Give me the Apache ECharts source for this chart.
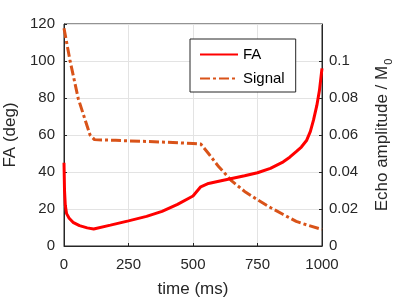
<!DOCTYPE html>
<html>
<head>
<meta charset="utf-8">
<script src="https://cdn.jsdelivr.net/npm/echarts@6/dist/echarts.min.js"></script>
<style>html,body{margin:0;padding:0;background:#fff}#c{width:400px;height:300px}</style>
</head>
<body>
<div id="c"></div>
<script>
// Data
var faTime   = [0, 2, 5, 10, 20, 35, 60, 90, 115, 180, 250, 320, 380, 440, 500, 530, 560, 600, 650, 700, 750, 800, 850, 875, 900, 920, 940, 955, 967, 980, 990, 1000];
var faValues = [45, 30, 22, 17.5, 15, 12.8, 11, 9.8, 9.2, 11.3, 13.6, 16, 18.7, 22.5, 27, 32, 33.8, 35, 36.5, 38, 39.6, 42, 45.5, 48, 51, 53.5, 57, 62, 68, 76, 84, 96];
var sigTime   = [0, 23, 55, 80, 101, 118, 200, 300, 400, 500, 530, 560, 600, 650, 700, 750, 800, 850, 900, 950, 1000];
var sigValues = [0.1177, 0.1005, 0.0798, 0.069, 0.060, 0.0575, 0.0571, 0.0566, 0.0561, 0.0554, 0.0551, 0.050, 0.0428, 0.0352, 0.0295, 0.0250, 0.0208, 0.0170, 0.0133, 0.0110, 0.0090];
var xTicks = [0, 250, 500, 750, 1000];
var seriesNames = ['FA', 'Signal'];

function pairs(t, v) { return t.map(function (x, i) { return [x, v[i]]; }); }

var txt = '#262626';
var font = 'Liberation Sans, Arial, Helvetica, sans-serif';
var chart = echarts.init(document.getElementById('c'), null, {renderer: 'canvas'});
chart.setOption({
  animation: false,
  textStyle: {fontFamily: font},
  grid: {left: 64, right: 78, top: 24, bottom: 54, outerBoundsMode: 'none', containLabel: false,
    show: true, borderColor: txt, borderWidth: 1, backgroundColor: 'transparent'},
  legend: {
    orient: 'vertical', left: 190, top: 39,
    padding: [8, 11, 6, 9], itemGap: 9, itemWidth: 38, itemHeight: 15,
    borderColor: txt, borderWidth: 1, borderRadius: 0, backgroundColor: '#fff',
    itemStyle: {opacity: 0},
    textStyle: {fontSize: 15, color: '#000', fontFamily: font},
    data: seriesNames
  },
  xAxis: {
    type: 'value', min: xTicks[0], max: xTicks[xTicks.length - 1], interval: 250,
    name: 'time (ms)', nameLocation: 'middle', nameGap: 35,
    nameTextStyle: {fontSize: 17, color: txt, fontFamily: font},
    axisLine: {lineStyle: {color: txt}},
    axisTick: {inside: true, length: 3, lineStyle: {color: txt}},
    axisLabel: {fontSize: 15, color: txt, margin: 11, fontFamily: font,
      formatter: function (v) { return String(v); }},
    splitLine: {show: true, lineStyle: {color: '#e3e3e3', width: 1}}
  },
  yAxis: [{
    type: 'value', min: 0, max: 120, interval: 20, position: 'left',
    name: 'FA (deg)', nameLocation: 'middle', nameGap: 39,
    nameTextStyle: {fontSize: 17, color: txt, fontFamily: font},
    axisLine: {show: true, lineStyle: {color: txt}},
    axisTick: {show: true, inside: true, length: 3, lineStyle: {color: txt}},
    axisLabel: {fontSize: 15, color: txt, margin: 9, fontFamily: font},
    splitLine: {show: true, lineStyle: {color: '#e3e3e3', width: 1}}
  }, {
    type: 'value', min: 0, max: 0.12, interval: 0.02, position: 'right',
    name: 'Echo amplitude / M{sub|0}', nameLocation: 'middle', nameGap: 49,
    nameTextStyle: {fontSize: 17, color: txt, fontFamily: font,
      rich: {sub: {fontSize: 11, color: txt, fontFamily: font, verticalAlign: 'top', padding: [12, 0, 0, 1]}}},
    axisLine: {show: true, lineStyle: {color: txt}},
    axisTick: {show: true, inside: true, length: 3, lineStyle: {color: txt}},
    axisLabel: {fontSize: 15, color: txt, margin: 7, fontFamily: font, showMaxLabel: false,
      formatter: function (v) { return v === 0 ? '0' : String(+v.toFixed(2)); }},
    splitLine: {show: false}
  }],
  series: [{
    name: seriesNames[0], type: 'line', yAxisIndex: 0, symbol: 'none',
    data: pairs(faTime, faValues),
    lineStyle: {color: '#ff0000', width: 3}, itemStyle: {color: '#ff0000'}, z: 3
  }, {
    name: seriesNames[1], type: 'line', yAxisIndex: 1, symbol: 'none',
    data: pairs(sigTime, sigValues),
    lineStyle: {color: '#d95319', width: 3, type: [10, 3, 3, 3]}, itemStyle: {color: '#d95319'}, z: 2
  }]
});
</script>
</body>
</html>
